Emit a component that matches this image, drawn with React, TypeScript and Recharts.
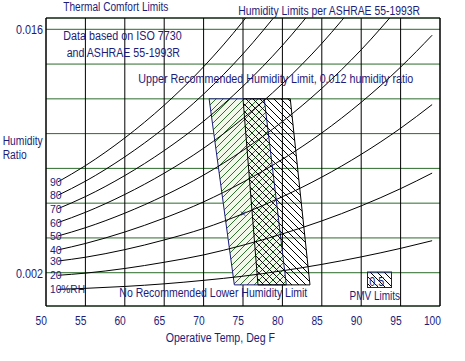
import React from 'react';
import { ComposedChart, Line, Area, Scatter, XAxis, YAxis, CartesianGrid, ReferenceArea } from 'recharts';

const NAVY = '#1c1c7a';
const GRID_GREEN = '#2b6b2b';
const FONT = '"Liberation Sans", Arial, sans-serif';

// operative temperature (deg F) where the RH curves are sampled
const temps = [51.5, 55, 60, 65, 70, 75, 80, 85, 90, 95, 99];

// humidity ratio along each relative humidity curve
const rh10 = [0.00104, 0.0011, 0.00121, 0.00136, 0.00156, 0.0018, 0.00211, 0.00248, 0.00291, 0.0034, 0.00384];
const rh20 = [0.00185, 0.001975, 0.002243, 0.0026, 0.003023, 0.003582, 0.004232, 0.004979, 0.005844, 0.006835, 0.00773];
const rh30 = [0.00267, 0.002889, 0.003327, 0.003884, 0.004546, 0.00539, 0.00637, 0.007499, 0.008807, 0.01031, 0.01167];
const rh40 = [0.00331, 0.00368, 0.004342, 0.005139, 0.006075, 0.007207, 0.008523, 0.01004, 0.0118, 0.013825, 0.015659];
const rh50 = [0.00411, 0.004586, 0.005425, 0.006431, 0.007614, 0.009036, 0.010691, 0.012603, 0.014822, 0.01738, null];
const rh60 = [0.00488, 0.005472, 0.0065, 0.007723, 0.009159, 0.010875, 0.012874, 0.015185, 0.017872, null, null];
const rh70 = [0.00568, 0.006376, 0.007587, 0.009024, 0.010713, 0.012726, 0.015073, 0.017791, null, null, null];
const rh80 = [0.00645, 0.007262, 0.008664, 0.010324, 0.012274, 0.014587, 0.017288, null, null, null, null];
const rh90 = [0.00722, 0.008157, 0.009752, 0.011633, 0.013844, 0.01646, 0.019518, null, null, null, null];

const rhSeries = [rh10, rh20, rh30, rh40, rh50, rh60, rh70, rh80, rh90];
const rhNames = ['10%RH', '20', '30', '40', '50', '60', '70', '80', '90'];

// PMV -0.5..+0.5 zones (winter: blue outline, summer: black outline)
const winterT = [70.7, 73.9, 77.7, 80.5];
const winterLow = [0.012, 0.0013, 0.0013, 0.0013];
const winterHigh = [0.012, 0.012, 0.012, 0.0013];
const summerT = [75.0, 76.9, 81.0, 83.5];
const summerLow = [0.012, 0.0013, 0.0013, 0.0013];
const summerHigh = [0.012, 0.012, 0.012, 0.0013];

const centerMark = [{ t: 75.0, w: 0.0054 }];

const xTicks = [50, 55, 60, 65, 70, 75, 80, 85, 90, 95, 100];
const yTicks = [0.002, 0.004, 0.006, 0.008, 0.01, 0.012, 0.014, 0.016];
const yLabelled = [0.002, 0.016];

const rhRows = temps.map((t, i) => {
  const row: any = { t };
  rhSeries.forEach((s, k) => {
    row['rh' + k] = s[i];
  });
  return row;
});
const winterRows = winterT.map((t, i) => ({ t, range: [winterLow[i], winterHigh[i]] }));
const summerRows = summerT.map((t, i) => ({ t, range: [summerLow[i], summerHigh[i]] }));

function Txt({ x, y, w, size = 12.5, anchor = 'start', children }: any) {
  return (
    <text
      x={x}
      y={y}
      textAnchor={anchor}
      textLength={w}
      lengthAdjust="spacingAndGlyphs"
      fontFamily={FONT}
      fontSize={size}
      fill={NAVY}
    >
      {children}
    </text>
  );
}

const XTick = ({ x, payload }: any) => (
  <Txt x={x + 1} y={325} w={String(payload.value).length * 5.7} anchor="end">
    {payload.value}
  </Txt>
);

const YTick = ({ y, payload }: any) => {
  const hit = yLabelled.some((v) => Math.abs(v - payload.value) < 1e-9);
  if (!hit) return <g />;
  return (
    <Txt x={43} y={y + 5} w={27} anchor="end">
      {payload.value.toFixed(3)}
    </Txt>
  );
};

const cross = (p: any) => (
  <path
    d={`M${p.cx - 2},${p.cy - 2} L${p.cx + 2},${p.cy + 2} M${p.cx - 2},${p.cy + 2} L${p.cx + 2},${p.cy - 2}`}
    stroke={NAVY}
    strokeWidth={1}
  />
);

export default function App() {
  return (
    <div style={{ position: 'absolute', left: 0, top: 0, width: 465, height: 361, background: '#fff' }}>
      <ComposedChart width={465} height={361} data={rhRows} margin={{ top: 18, right: 25, bottom: 25, left: 0 }}>
        <defs>
          <pattern id="hatchGreen" patternUnits="userSpaceOnUse" width="7" height="7">
            <rect width="7" height="7" fill="#f2f8ea" />
            <path d="M-1,1 l2,-2 M0,7 l7,-7 M6,8 l2,-2" stroke="#2f6f2f" strokeWidth="1" />
          </pattern>
          <pattern id="hatchBlack" patternUnits="userSpaceOnUse" width="7" height="7">
            <path d="M-1,6 l2,2 M0,0 l7,7 M6,-1 l2,2" stroke="#000" strokeWidth="1" />
          </pattern>
        </defs>
        <CartesianGrid vertical={false} stroke={GRID_GREEN} />
        <CartesianGrid horizontal={false} stroke="#000" />
        <XAxis
          type="number"
          dataKey="t"
          domain={[50, 100]}
          ticks={xTicks}
          allowDataOverflow
          axisLine={false}
          tickLine={false}
          tickSize={0}
          height={30}
          tick={<XTick />}
        />
        <YAxis
          type="number"
          domain={[0.000085, 0.01665]}
          ticks={yTicks}
          allowDataOverflow
          axisLine={false}
          tickLine={false}
          tickSize={0}
          width={46}
          tick={<YTick />}
        />
        <Area
          data={winterRows}
          dataKey="range"
          type="linear"
          stroke={NAVY}
          strokeWidth={1}
          fill="url(#hatchGreen)"
          fillOpacity={1}
          dot={false}
          activeDot={false}
          isAnimationActive={false}
        />
        <Area
          data={summerRows}
          dataKey="range"
          type="linear"
          stroke="#000"
          strokeWidth={1}
          fill="url(#hatchBlack)"
          fillOpacity={1}
          dot={false}
          activeDot={false}
          isAnimationActive={false}
        />
        {rhSeries.map((_, k) => (
          <Line
            key={k}
            dataKey={'rh' + k}
            type="monotone"
            stroke="#000"
            strokeWidth={1}
            activeDot={false}
            isAnimationActive={false}
            dot={(p: any) =>
              p.index === 0 && p.cx != null ? (
                <Txt key={'lbl' + k} x={p.cx - 7.8} y={p.cy + 4} size={11.5} w={k === 0 ? 35 : 11.7}>
                  {rhNames[k]}
                </Txt>
              ) : (
                <g key={'d' + k + '-' + p.index} />
              )
            }
          />
        ))}
        <Scatter data={centerMark} dataKey="w" shape={cross} isAnimationActive={false} />
        <ReferenceArea x1={50} x2={100} y1={0.000085} y2={0.01665} fill="none" stroke="#000" strokeWidth={1} ifOverflow="visible" />
      </ComposedChart>
      <svg
        width={465}
        height={361}
        style={{ position: 'absolute', left: 0, top: 0, pointerEvents: 'none' }}
      >
        <defs>
          <pattern id="legHatch" patternUnits="userSpaceOnUse" width="7" height="7">
            <path d="M-1,6 l2,2 M0,0 l7,7 M6,-1 l2,2" stroke="#000" strokeWidth="1" />
          </pattern>
        </defs>
        <Txt x={63.3} y={10.5} w={105}>Thermal Comfort Limits</Txt>
        <Txt x={238.3} y={15} w={181.7}>Humidity Limits per ASHRAE 55-1993R</Txt>
        <Txt x={63.3} y={40} w={118.4}>Data based on ISO 7730</Txt>
        <Txt x={66.7} y={57} w={113.3}>and ASHRAE 55-1993R</Txt>
        <Txt x={138.3} y={83} w={275}>Upper Recommended Humidity Limit, 0.012 humidity ratio</Txt>
        <Txt x={2.7} y={145} w={40}>Humidity</Txt>
        <Txt x={2.7} y={159} w={24}>Ratio</Txt>
        <Txt x={119.3} y={297} w={188}>No Recommended Lower Humidity Limit</Txt>
        <rect x={367.5} y={272} width={24} height={15.5} fill="url(#legHatch)" stroke={NAVY} strokeWidth={1} />
        <Txt x={369.3} y={286} w={15}>0.5</Txt>
        <Txt x={349.5} y={299.5} w={50.5}>PMV Limits</Txt>
        <Txt x={165.7} y={341.5} w={109.3}>Operative Temp, Deg F</Txt>
      </svg>
    </div>
  );
}
